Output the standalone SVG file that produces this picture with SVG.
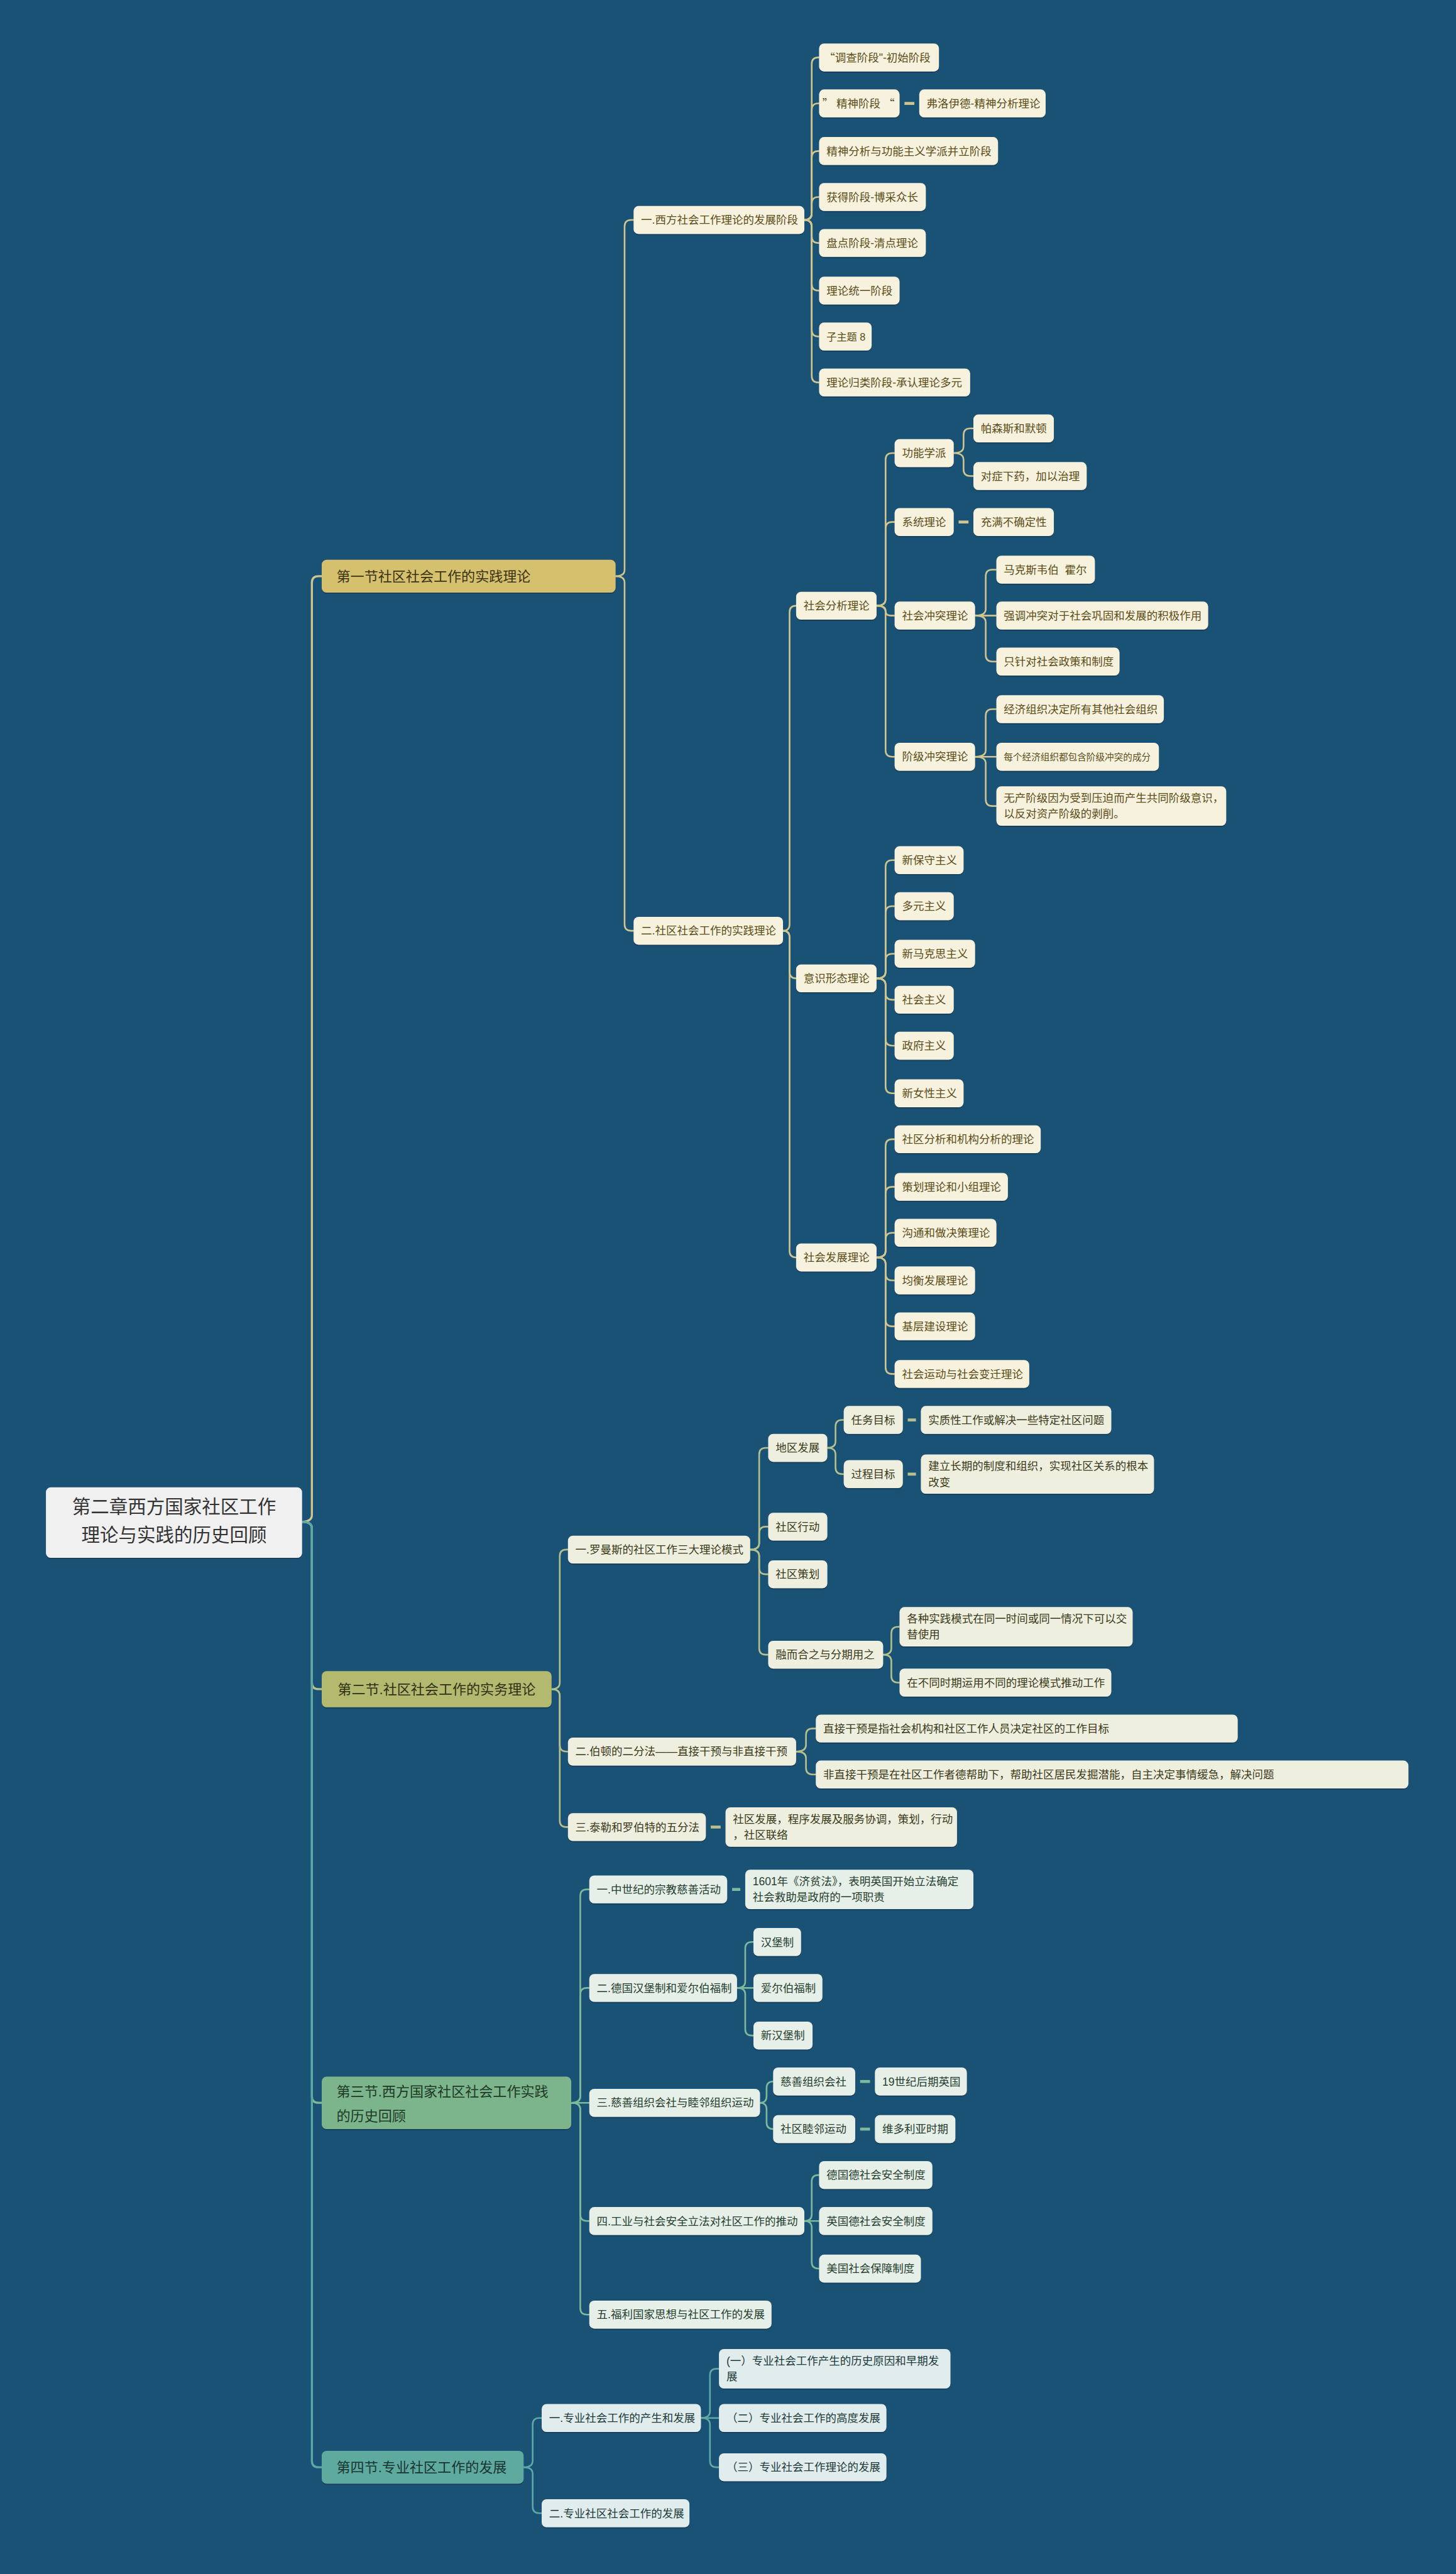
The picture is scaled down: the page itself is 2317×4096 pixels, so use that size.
<svg xmlns="http://www.w3.org/2000/svg" width="2317" height="4096" viewBox="0 0 2317 4096">
<style>
text{font-family:"Liberation Sans","Noto Sans CJK SC",sans-serif;font-size:6.7px;white-space:pre}
.cjk{font-family:"Noto Sans CJK SC",sans-serif}
rect{filter:url(#sh)}
.root rect{fill:#f0f0f0}.root text{fill:#333;font-size:11.3px;text-anchor:middle}
.h1 rect{fill:#d5c06d}.h1 text{fill:#3b3212;font-size:8.45px}
.h2 rect{fill:#b4b96f}.h2 text{fill:#2f3114;font-size:8.45px}
.h3 rect{fill:#7bb48c}.h3 text{fill:#1e3a27;font-size:8.45px}
.h4 rect{fill:#5eaa9f}.h4 text{fill:#173532;font-size:8.45px}
.k1 rect{fill:#f6f2de}.k1 text{fill:#5c4d18}
.k2 rect{fill:#efefe0}.k2 text{fill:#3a3a18}
.k3 rect{fill:#e6efe8}.k3 text{fill:#26402f}
.k4 rect{fill:#e1eded}.k4 text{fill:#203a3a}
.c1{fill:none;stroke:#d0c58e;stroke-width:1;stroke-linecap:round}
.c2{fill:none;stroke:#b7c08c;stroke-width:1;stroke-linecap:round}
.c3{fill:none;stroke:#7fb99b;stroke-width:1;stroke-linecap:round}
.c4{fill:none;stroke:#5ea9a5;stroke-width:1;stroke-linecap:round}
.sp{stroke-width:1.25}
.d{stroke-width:1.8;stroke-linecap:butt}
</style>
<defs>
<filter id="sh" x="-5%" y="-15%" width="110%" height="140%">
<feDropShadow dx="0" dy="0.6" stdDeviation="0.3" flood-color="#0a2d45" flood-opacity="0.7"/>
</filter>
</defs>
<rect x="0" y="0" width="2317" height="4096" fill="#1a5276" style="filter:none"/>
<g transform="scale(2.6122)">
<g id="connectors">
<path class="c1 sp" d="M184,927 Q190,927 190,923 L190,355 Q190,351 194,351 L196,351"/>
<path class="c2 sp" d="M184,927 Q190,927 190,931 L190,1025 Q190,1029 194,1029 L196,1029"/>
<path class="c3 sp" d="M184,927 Q190,927 190,931 L190,1277 Q190,1281 194,1281 L196,1281"/>
<path class="c4 sp" d="M184,927 Q190,927 190,931 L190,1499 Q190,1503 194,1503 L196,1503"/>
<path class="c1" d="M375,351 Q380.5,351 380.5,347 L380.5,138 Q380.5,134 384.5,134 L386,134"/>
<path class="c1" d="M375,351 Q380.5,351 380.5,355 L380.5,563 Q380.5,567 384.5,567 L386,567"/>
<path class="c1" d="M490,134 Q494.5,134 494.5,130 L494.5,39 Q494.5,35 498.5,35 L499,35"/>
<path class="c1" d="M490,134 Q494.5,134 494.5,130 L494.5,67 Q494.5,63 498.5,63 L499,63"/>
<path class="c1" d="M490,134 Q494.5,134 494.5,130 L494.5,96 Q494.5,92 498.5,92 L499,92"/>
<path class="c1" d="M490,134 Q494.5,134 494.5,130 L494.5,124 Q494.5,120 498.5,120 L499,120"/>
<path class="c1" d="M490,134 Q494.5,134 494.5,138 L494.5,144 Q494.5,148 498.5,148 L499,148"/>
<path class="c1" d="M490,134 Q494.5,134 494.5,138 L494.5,173 Q494.5,177 498.5,177 L499,177"/>
<path class="c1" d="M490,134 Q494.5,134 494.5,138 L494.5,201 Q494.5,205 498.5,205 L499,205"/>
<path class="c1" d="M490,134 Q494.5,134 494.5,138 L494.5,229 Q494.5,233 498.5,233 L499,233"/>
<path class="c1 d" d="M551,63 L557,63"/>
<path class="c1" d="M477,567 Q481,567 481,563 L481,373 Q481,369 485,369"/>
<path class="c1" d="M477,567 Q481,567 481,571 L481,592 Q481,596 485,596"/>
<path class="c1" d="M477,567 Q481,567 481,571 L481,762 Q481,766 485,766"/>
<path class="c1" d="M534,369 Q539.5,369 539.5,365 L539.5,280 Q539.5,276 543.5,276 L545,276"/>
<path class="c1" d="M534,369 Q539.5,369 539.5,365 L539.5,322 Q539.5,318 543.5,318 L545,318"/>
<path class="c1" d="M534,369 Q539.5,369 539.5,372 Q539.5,375 542.5,375 L545,375"/>
<path class="c1" d="M534,369 Q539.5,369 539.5,373 L539.5,457 Q539.5,461 543.5,461 L545,461"/>
<path class="c1" d="M581,276 Q587,276 587,272 L587,265 Q587,261 591,261 L593,261"/>
<path class="c1" d="M581,276 Q587,276 587,280 L587,286 Q587,290 591,290 L593,290"/>
<path class="c1 d" d="M584,318 L590,318"/>
<path class="c1" d="M594,375 Q600.5,375 600.5,371 L600.5,351 Q600.5,347 604.5,347 L607,347"/>
<path class="c1" d="M594,375 L607,375"/>
<path class="c1" d="M594,375 Q600.5,375 600.5,379 L600.5,399 Q600.5,403 604.5,403 L607,403"/>
<path class="c1" d="M594,461 Q600.5,461 600.5,457 L600.5,436 Q600.5,432 604.5,432 L607,432"/>
<path class="c1" d="M594,461 L607,461"/>
<path class="c1" d="M594,461 Q600.5,461 600.5,465 L600.5,487 Q600.5,491 604.5,491 L607,491"/>
<path class="c1" d="M534,596 Q539.5,596 539.5,592 L539.5,528 Q539.5,524 543.5,524 L545,524"/>
<path class="c1" d="M534,596 Q539.5,596 539.5,592 L539.5,556 Q539.5,552 543.5,552 L545,552"/>
<path class="c1" d="M534,596 Q539.5,596 539.5,592 L539.5,585 Q539.5,581 543.5,581 L545,581"/>
<path class="c1" d="M534,596 Q539.5,596 539.5,600 L539.5,605 Q539.5,609 543.5,609 L545,609"/>
<path class="c1" d="M534,596 Q539.5,596 539.5,600 L539.5,633 Q539.5,637 543.5,637 L545,637"/>
<path class="c1" d="M534,596 Q539.5,596 539.5,600 L539.5,662 Q539.5,666 543.5,666 L545,666"/>
<path class="c1" d="M534,766 Q539.5,766 539.5,762 L539.5,698 Q539.5,694 543.5,694 L545,694"/>
<path class="c1" d="M534,766 Q539.5,766 539.5,762 L539.5,727 Q539.5,723 543.5,723 L545,723"/>
<path class="c1" d="M534,766 Q539.5,766 539.5,762 L539.5,755 Q539.5,751 543.5,751 L545,751"/>
<path class="c1" d="M534,766 Q539.5,766 539.5,770 L539.5,776 Q539.5,780 543.5,780 L545,780"/>
<path class="c1" d="M534,766 Q539.5,766 539.5,770 L539.5,804 Q539.5,808 543.5,808 L545,808"/>
<path class="c1" d="M534,766 Q539.5,766 539.5,770 L539.5,833 Q539.5,837 543.5,837 L545,837"/>
<path class="c2" d="M336,1029 Q341,1029 341,1025 L341,948 Q341,944 345,944 L346,944"/>
<path class="c2" d="M336,1029 Q341,1029 341,1033 L341,1063 Q341,1067 345,1067 L346,1067"/>
<path class="c2" d="M336,1029 Q341,1029 341,1033 L341,1109 Q341,1113 345,1113 L346,1113"/>
<path class="c2" d="M457,944 Q462.5,944 462.5,940 L462.5,886 Q462.5,882 466.5,882 L468,882"/>
<path class="c2" d="M457,944 Q462.5,944 462.5,940 L462.5,934 Q462.5,930 466.5,930 L468,930"/>
<path class="c2" d="M457,944 Q462.5,944 462.5,948 L462.5,955 Q462.5,959 466.5,959 L468,959"/>
<path class="c2" d="M457,944 Q462.5,944 462.5,948 L462.5,1004 Q462.5,1008 466.5,1008 L468,1008"/>
<path class="c2" d="M504,882 Q509,882 509,878 L509,869 Q509,865 513,865 L514,865"/>
<path class="c2" d="M504,882 Q509,882 509,886 L509,894 Q509,898 513,898 L514,898"/>
<path class="c2 d" d="M553,865 L558,865"/>
<path class="c2 d" d="M553,898 L558,898"/>
<path class="c2" d="M538,1008 Q543,1008 543,1004 L543,995 Q543,991 547,991 L548,991"/>
<path class="c2" d="M538,1008 Q543,1008 543,1012 L543,1021 Q543,1025 547,1025 L548,1025"/>
<path class="c2" d="M485,1067 Q491,1067 491,1063 L491,1057 Q491,1053 495,1053 L497,1053"/>
<path class="c2" d="M485,1067 Q491,1067 491,1071 L491,1077 Q491,1081 495,1081 L497,1081"/>
<path class="c2 d" d="M433,1113 L439,1113"/>
<path class="c3" d="M348,1281 Q353.5,1281 353.5,1277 L353.5,1155 Q353.5,1151 357.5,1151 L359,1151"/>
<path class="c3" d="M348,1281 Q353.5,1281 353.5,1277 L353.5,1215 Q353.5,1211 357.5,1211 L359,1211"/>
<path class="c3" d="M348,1281 L359,1281"/>
<path class="c3" d="M348,1281 Q353.5,1281 353.5,1285 L353.5,1349 Q353.5,1353 357.5,1353 L359,1353"/>
<path class="c3" d="M348,1281 Q353.5,1281 353.5,1285 L353.5,1406 Q353.5,1410 357.5,1410 L359,1410"/>
<path class="c3 d" d="M446,1151 L451,1151"/>
<path class="c3" d="M449,1211 Q454,1211 454,1207 L454,1187 Q454,1183 458,1183 L459,1183"/>
<path class="c3" d="M449,1211 L459,1211"/>
<path class="c3" d="M449,1211 Q454,1211 454,1215 L454,1236 Q454,1240 458,1240 L459,1240"/>
<path class="c3" d="M463,1281 Q467,1281 467,1277 L467,1272 Q467,1268 471,1268"/>
<path class="c3" d="M463,1281 Q467,1281 467,1285 L467,1293 Q467,1297 471,1297"/>
<path class="c3 d" d="M524,1268 L530,1268"/>
<path class="c3 d" d="M524,1297 L530,1297"/>
<path class="c3" d="M490,1353 Q494.5,1353 494.5,1349 L494.5,1329 Q494.5,1325 498.5,1325 L499,1325"/>
<path class="c3" d="M490,1353 L499,1353"/>
<path class="c3" d="M490,1353 Q494.5,1353 494.5,1357 L494.5,1378 Q494.5,1382 498.5,1382 L499,1382"/>
<path class="c4" d="M319,1503 Q324.5,1503 324.5,1499 L324.5,1477 Q324.5,1473 328.5,1473 L330,1473"/>
<path class="c4" d="M319,1503 Q324.5,1503 324.5,1507 L324.5,1527 Q324.5,1531 328.5,1531 L330,1531"/>
<path class="c4" d="M427,1473 Q432.5,1473 432.5,1469 L432.5,1447 Q432.5,1443 436.5,1443 L438,1443"/>
<path class="c4" d="M427,1473 L438,1473"/>
<path class="c4" d="M427,1473 Q432.5,1473 432.5,1477 L432.5,1499 Q432.5,1503 436.5,1503 L438,1503"/>
</g>

<g id="root" class="root"><rect x="28" y="906" width="156" height="43" rx="3"/><text x="106" y="922">第二章西方国家社区工作</text><text x="106" y="939">理论与实践的历史回顾</text></g>

<g id="s1" class="h1"><rect x="196" y="341" width="179" height="20" rx="3"/><text x="205" y="354">第一节社区社会工作的实践理论</text></g>
<g id="s2" class="h2"><rect x="196" y="1018" width="140" height="22" rx="3"/><text x="266" y="1032" text-anchor="middle">第二节.社区社会工作的实务理论</text></g>
<g id="s3" class="h3"><rect x="196" y="1265" width="152" height="32" rx="3"/><text x="205" y="1277">第三节.西方国家社区社会工作实践</text><text x="205" y="1292">的历史回顾</text></g>
<g id="s4" class="h4"><rect x="196" y="1493" width="123" height="20" rx="3"/><text x="205" y="1506">第四节.专业社区工作的发展</text></g>

<g id="a1" class="k1"><rect x="386" y="125.5" width="104" height="17" rx="3"/><text x="390.5" y="136.4">一.西方社会工作理论的发展阶段</text></g>
<g id="a1-1" class="k1"><rect x="499" y="26.5" width="73" height="17" rx="3"/><text x="502" y="37.4"><tspan class="cjk">“</tspan>调查阶段"-初始阶段</text></g>
<g id="a1-2" class="k1"><rect x="499" y="54.5" width="49" height="17" rx="3"/><text x="501" y="65.4"><tspan class="cjk">”</tspan> 精神阶段 <tspan class="cjk">“</tspan></text></g>
<g id="a1-2a" class="k1"><rect x="560" y="54.5" width="77" height="17" rx="3"/><text x="564.5" y="65.4">弗洛伊德-精神分析理论</text></g>
<g id="a1-3" class="k1"><rect x="499" y="83.5" width="109" height="17" rx="3"/><text x="503.5" y="94.4">精神分析与功能主义学派并立阶段</text></g>
<g id="a1-4" class="k1"><rect x="499" y="111.5" width="65" height="17" rx="3"/><text x="503.5" y="122.4">获得阶段-博采众长</text></g>
<g id="a1-5" class="k1"><rect x="499" y="139.5" width="65" height="17" rx="3"/><text x="503.5" y="150.4">盘点阶段-清点理论</text></g>
<g id="a1-6" class="k1"><rect x="499" y="168.5" width="49" height="17" rx="3"/><text x="503.5" y="179.4">理论统一阶段</text></g>
<g id="a1-7" class="k1"><rect x="499" y="196.5" width="32" height="17" rx="3"/><text x="503.5" y="207.3" style="font-size:6.2px">子主题 8</text></g>
<g id="a1-8" class="k1"><rect x="499" y="224.5" width="92" height="17" rx="3"/><text x="503.5" y="235.4">理论归类阶段-承认理论多元</text></g>

<g id="a2" class="k1"><rect x="386" y="558.5" width="91" height="17" rx="3"/><text x="390.5" y="569.4">二.社区社会工作的实践理论</text></g>
<g id="a2-1" class="k1"><rect x="485" y="360.5" width="49" height="17" rx="3"/><text x="489.5" y="371.4">社会分析理论</text></g>
<g id="a2-1-1" class="k1"><rect x="545" y="267.5" width="36" height="17" rx="3"/><text x="549.5" y="278.4">功能学派</text></g>
<g id="a2-1-1a" class="k1"><rect x="593" y="252.5" width="49" height="17" rx="3"/><text x="597.5" y="263.4">帕森斯和默顿</text></g>
<g id="a2-1-1b" class="k1"><rect x="593" y="281.5" width="69" height="17" rx="3"/><text x="597.5" y="292.4">对症下药，加以治理</text></g>
<g id="a2-1-2" class="k1"><rect x="545" y="309.5" width="36" height="17" rx="3"/><text x="549.5" y="320.4">系统理论</text></g>
<g id="a2-1-2a" class="k1"><rect x="593" y="309.5" width="49" height="17" rx="3"/><text x="597.5" y="320.4">充满不确定性</text></g>
<g id="a2-1-3" class="k1"><rect x="545" y="366.5" width="49" height="17" rx="3"/><text x="549.5" y="377.4">社会冲突理论</text></g>
<g id="a2-1-3a" class="k1"><rect x="607" y="338.5" width="60" height="17" rx="3"/><text x="611.5" y="349.4">马克斯韦伯  霍尔</text></g>
<g id="a2-1-3b" class="k1"><rect x="607" y="366.5" width="129" height="17" rx="3"/><text x="611.5" y="377.4">强调冲突对于社会巩固和发展的积极作用</text></g>
<g id="a2-1-3c" class="k1"><rect x="607" y="394.5" width="75" height="17" rx="3"/><text x="611.5" y="405.4">只针对社会政策和制度</text></g>
<g id="a2-1-4" class="k1"><rect x="545" y="452.5" width="49" height="17" rx="3"/><text x="549.5" y="463.4">阶级冲突理论</text></g>
<g id="a2-1-4a" class="k1"><rect x="607" y="423.5" width="102" height="17" rx="3"/><text x="611.5" y="434.4">经济组织决定所有其他社会组织</text></g>
<g id="a2-1-4b" class="k1"><rect x="607" y="452.5" width="99" height="17" rx="3"/><text x="611.5" y="463.1" style="font-size:5.6px">每个经济组织都包含阶级冲突的成分</text></g>
<g id="a2-1-4c" class="k1"><rect x="607" y="479" width="140" height="24" rx="3"/><text x="611.5" y="488.6">无产阶级因为受到压迫而产生共同阶级意识，</text><text x="611.5" y="498.2">以反对资产阶级的剥削。</text></g>
<g id="a2-2" class="k1"><rect x="485" y="587.5" width="49" height="17" rx="3"/><text x="489.5" y="598.4">意识形态理论</text></g>
<g id="a2-2a" class="k1"><rect x="545" y="515.5" width="42" height="17" rx="3"/><text x="549.5" y="526.4">新保守主义</text></g>
<g id="a2-2b" class="k1"><rect x="545" y="543.5" width="36" height="17" rx="3"/><text x="549.5" y="554.4">多元主义</text></g>
<g id="a2-2c" class="k1"><rect x="545" y="572.5" width="49" height="17" rx="3"/><text x="549.5" y="583.4">新马克思主义</text></g>
<g id="a2-2d" class="k1"><rect x="545" y="600.5" width="36" height="17" rx="3"/><text x="549.5" y="611.4">社会主义</text></g>
<g id="a2-2e" class="k1"><rect x="545" y="628.5" width="36" height="17" rx="3"/><text x="549.5" y="639.4">政府主义</text></g>
<g id="a2-2f" class="k1"><rect x="545" y="657.5" width="42" height="17" rx="3"/><text x="549.5" y="668.4">新女性主义</text></g>
<g id="a2-3" class="k1"><rect x="485" y="757.5" width="49" height="17" rx="3"/><text x="489.5" y="768.4">社会发展理论</text></g>
<g id="a2-3a" class="k1"><rect x="545" y="685.5" width="89" height="17" rx="3"/><text x="549.5" y="696.4">社区分析和机构分析的理论</text></g>
<g id="a2-3b" class="k1"><rect x="545" y="714.5" width="69" height="17" rx="3"/><text x="549.5" y="725.4">策划理论和小组理论</text></g>
<g id="a2-3c" class="k1"><rect x="545" y="742.5" width="62" height="17" rx="3"/><text x="549.5" y="753.4">沟通和做决策理论</text></g>
<g id="a2-3d" class="k1"><rect x="545" y="771.5" width="49" height="17" rx="3"/><text x="549.5" y="782.4">均衡发展理论</text></g>
<g id="a2-3e" class="k1"><rect x="545" y="799.5" width="49" height="17" rx="3"/><text x="549.5" y="810.4">基层建设理论</text></g>
<g id="a2-3f" class="k1"><rect x="545" y="828.5" width="82" height="17" rx="3"/><text x="549.5" y="839.4">社会运动与社会变迁理论</text></g>

<g id="b1" class="k2"><rect x="346" y="935.5" width="111" height="17" rx="3"/><text x="350.5" y="946.4">一.罗曼斯的社区工作三大理论模式</text></g>
<g id="b1-1" class="k2"><rect x="468" y="873.5" width="36" height="17" rx="3"/><text x="472.5" y="884.4">地区发展</text></g>
<g id="b1-1a" class="k2"><rect x="514" y="856.5" width="36" height="17" rx="3"/><text x="518.5" y="867.4">任务目标</text></g>
<g id="b1-1a1" class="k2"><rect x="561" y="856.5" width="116" height="17" rx="3"/><text x="565.5" y="867.4">实质性工作或解决一些特定社区问题</text></g>
<g id="b1-1b" class="k2"><rect x="514" y="889.5" width="36" height="17" rx="3"/><text x="518.5" y="900.4">过程目标</text></g>
<g id="b1-1b1" class="k2"><rect x="561" y="886" width="142" height="24" rx="3"/><text x="565.5" y="895.6">建立长期的制度和组织，实现社区关系的根本</text><text x="565.5" y="905.2">改变</text></g>
<g id="b1-2" class="k2"><rect x="468" y="921.5" width="36" height="17" rx="3"/><text x="472.5" y="932.4">社区行动</text></g>
<g id="b1-3" class="k2"><rect x="468" y="950.5" width="36" height="17" rx="3"/><text x="472.5" y="961.4">社区策划</text></g>
<g id="b1-4" class="k2"><rect x="468" y="999.5" width="70" height="17" rx="3"/><text x="472.5" y="1010.4">融而合之与分期用之</text></g>
<g id="b1-4a" class="k2"><rect x="548" y="979" width="142" height="24" rx="3"/><text x="552.5" y="988.6">各种实践模式在同一时间或同一情况下可以交</text><text x="552.5" y="998.2">替使用</text></g>
<g id="b1-4b" class="k2"><rect x="548" y="1016.5" width="129" height="17" rx="3"/><text x="552.5" y="1027.4">在不同时期运用不同的理论模式推动工作</text></g>
<g id="b2" class="k2"><rect x="346" y="1058.5" width="139" height="17" rx="3"/><text x="350.5" y="1069.4">二.伯顿的二分法——直接干预与非直接干预</text></g>
<g id="b2a" class="k2"><rect x="497" y="1044.5" width="257" height="17" rx="3"/><text x="501.5" y="1055.4">直接干预是指社会机构和社区工作人员决定社区的工作目标</text></g>
<g id="b2b" class="k2"><rect x="497" y="1072.5" width="361" height="17" rx="3"/><text x="501.5" y="1083.4">非直接干预是在社区工作者德帮助下，帮助社区居民发掘潜能，自主决定事情缓急，解决问题</text></g>
<g id="b3" class="k2"><rect x="346" y="1104.5" width="84" height="17" rx="3"/><text x="350.5" y="1115.4">三.泰勒和罗伯特的五分法</text></g>
<g id="b3a" class="k2"><rect x="442" y="1101" width="141" height="24" rx="3"/><text x="446.5" y="1110.6">社区发展，程序发展及服务协调，策划，行动</text><text x="446.5" y="1120.2">，社区联络</text></g>

<g id="c1" class="k3"><rect x="359" y="1142.5" width="84" height="17" rx="3"/><text x="363.5" y="1153.4">一.中世纪的宗教慈善活动</text></g>
<g id="c1a" class="k3"><rect x="454" y="1139" width="139" height="24" rx="3"/><text x="458.5" y="1148.6">1601年《济贫法》，表明英国开始立法确定</text><text x="458.5" y="1158.2">社会救助是政府的一项职责</text></g>
<g id="c2" class="k3"><rect x="359" y="1202.5" width="90" height="17" rx="3"/><text x="363.5" y="1213.4">二.德国汉堡制和爱尔伯福制</text></g>
<g id="c2a" class="k3"><rect x="459" y="1174.5" width="29" height="17" rx="3"/><text x="463.5" y="1185.4">汉堡制</text></g>
<g id="c2b" class="k3"><rect x="459" y="1202.5" width="42" height="17" rx="3"/><text x="463.5" y="1213.4">爱尔伯福制</text></g>
<g id="c2c" class="k3"><rect x="459" y="1231.5" width="36" height="17" rx="3"/><text x="463.5" y="1242.4">新汉堡制</text></g>
<g id="c3" class="k3"><rect x="359" y="1272.5" width="104" height="17" rx="3"/><text x="363.5" y="1283.4">三.慈善组织会社与睦邻组织运动</text></g>
<g id="c3a" class="k3"><rect x="471" y="1259.5" width="50" height="17" rx="3"/><text x="475.5" y="1270.4">慈善组织会社</text></g>
<g id="c3a1" class="k3"><rect x="533" y="1259.5" width="56" height="17" rx="3"/><text x="537.5" y="1270.4">19世纪后期英国</text></g>
<g id="c3b" class="k3"><rect x="471" y="1288.5" width="50" height="17" rx="3"/><text x="475.5" y="1299.4">社区睦邻运动</text></g>
<g id="c3b1" class="k3"><rect x="533" y="1288.5" width="49" height="17" rx="3"/><text x="537.5" y="1299.4">维多利亚时期</text></g>
<g id="c4" class="k3"><rect x="359" y="1344.5" width="131" height="17" rx="3"/><text x="363.5" y="1355.4">四.工业与社会安全立法对社区工作的推动</text></g>
<g id="c4a" class="k3"><rect x="499" y="1316.5" width="69" height="17" rx="3"/><text x="503.5" y="1327.4">德国德社会安全制度</text></g>
<g id="c4b" class="k3"><rect x="499" y="1344.5" width="69" height="17" rx="3"/><text x="503.5" y="1355.4">英国德社会安全制度</text></g>
<g id="c4c" class="k3"><rect x="499" y="1373.5" width="62" height="17" rx="3"/><text x="503.5" y="1384.4">美国社会保障制度</text></g>
<g id="c5" class="k3"><rect x="359" y="1401.5" width="111" height="17" rx="3"/><text x="363.5" y="1412.4">五.福利国家思想与社区工作的发展</text></g>

<g id="d1" class="k4"><rect x="330" y="1464.5" width="97" height="17" rx="3"/><text x="334.5" y="1475.4">一.专业社会工作的产生和发展</text></g>
<g id="d1a" class="k4"><rect x="438" y="1431" width="141" height="24" rx="3"/><text x="442.5" y="1440.6">(一）专业社会工作产生的历史原因和早期发</text><text x="442.5" y="1450.2">展</text></g>
<g id="d1b" class="k4"><rect x="438" y="1464.5" width="102" height="17" rx="3"/><text x="442.5" y="1475.4">（二）专业社会工作的高度发展</text></g>
<g id="d1c" class="k4"><rect x="438" y="1494.5" width="102" height="17" rx="3"/><text x="442.5" y="1505.4">（三）专业社会工作理论的发展</text></g>
<g id="d2" class="k4"><rect x="330" y="1522.5" width="90" height="17" rx="3"/><text x="334.5" y="1533.4">二.专业社区社会工作的发展</text></g>
</g>
</svg>
